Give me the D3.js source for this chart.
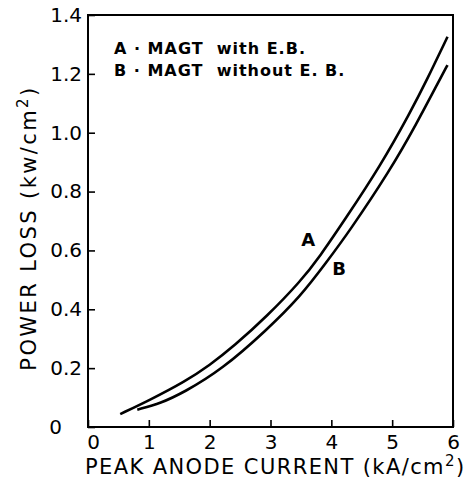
<!DOCTYPE html>
<html>
<head>
<meta charset="utf-8">
<script src="https://cdn.jsdelivr.net/npm/d3@7"></script>
<style>
  body { margin: 0; background: #fff; }
  text { font-family: "DejaVu Sans", sans-serif; fill: #000; }
</style>
</head>
<body>
<svg id="chart" width="474" height="489"></svg>
<script>
// curve A: MAGT with E.B.  [current kA/cm2, loss kW/cm2]
var curveA = [
  [0.53, 0.044], [1.0, 0.09], [1.6, 0.155], [2.0, 0.21], [2.4, 0.275],
  [2.94, 0.376], [3.49, 0.494], [3.81, 0.579], [4.22, 0.704], [4.8, 0.885],
  [5.3, 1.07], [5.57, 1.179], [5.91, 1.326]
];
// curve B: MAGT without E.B.
var curveB = [
  [0.81, 0.059], [1.2, 0.081], [1.57, 0.117], [2.2, 0.195], [2.94, 0.33],
  [3.49, 0.443], [3.92, 0.56], [4.28, 0.66], [4.96, 0.87], [5.4, 1.03],
  [5.78, 1.18], [5.91, 1.23]
];
var xTicks = [0, 1, 2, 3, 4, 5, 6];
var yTicks = [0, 0.2, 0.4, 0.6, 0.8, 1.0, 1.2, 1.4];
var legendLines = ["A \u00b7 MAGT  with E.B.", "B \u00b7 MAGT  without E. B."];
var curveLabels = [
  { name: "A", x: 3.62, y: 0.616 },
  { name: "B", x: 4.13, y: 0.518 }
];

var svg = d3.select("#chart");
var margin = { left: 88, top: 15, right: 21, bottom: 62 };
var width = 474 - margin.left - margin.right;
var height = 489 - margin.top - margin.bottom;

var xScale = d3.scaleLinear().domain([0, 6]).range([0, width]);
var yScale = d3.scaleLinear().domain([0, 1.4]).range([height, 0]);

var g = svg.append("g").attr("transform", "translate(" + margin.left + "," + margin.top + ")");

// frame
g.append("rect")
  .attr("width", width)
  .attr("height", height)
  .attr("fill", "none")
  .attr("stroke", "#000")
  .attr("stroke-width", 2);

var xAxis = d3.axisBottom(xScale)
  .tickValues(xTicks)
  .tickSize(-7)
  .tickPadding(8)
  .tickFormat(function (d) { return String(d); });

var yAxis = d3.axisLeft(yScale)
  .tickValues(yTicks)
  .tickSize(-7)
  .tickPadding(6)
  .tickFormat(function (d) { return d === 0 ? "0" : d.toFixed(1); });

var gx = g.append("g").attr("transform", "translate(0," + height + ")").call(xAxis);
var gy = g.append("g").call(yAxis);

[gx, gy].forEach(function (a) {
  a.select(".domain").remove();
  a.selectAll("line").attr("stroke", "#000").attr("stroke-width", 1.6);
  a.selectAll("text").attr("font-size", 20).attr("font-family", null);
});
gx.selectAll(".tick").filter(function (d) { return d === 0; }).select("text").attr("dx", 5);
gy.selectAll(".tick").filter(function (d) { return d === 0; }).select("text").attr("dx", -20);

var line = d3.line()
  .x(function (d) { return xScale(d[0]); })
  .y(function (d) { return yScale(d[1]); })
  .curve(d3.curveBasis);

g.selectAll(".curve")
  .data([curveA, curveB])
  .enter()
  .append("path")
  .attr("class", "curve")
  .attr("d", line)
  .attr("fill", "none")
  .attr("stroke", "#000")
  .attr("stroke-width", 2.6);

g.selectAll(".clabel")
  .data(curveLabels)
  .enter()
  .append("text")
  .attr("class", "clabel")
  .attr("x", function (d) { return xScale(d.x); })
  .attr("y", function (d) { return yScale(d.y); })
  .attr("text-anchor", "middle")
  .attr("font-size", 18)
  .attr("font-weight", "bold")
  .text(function (d) { return d.name; });

g.selectAll(".legend")
  .data(legendLines)
  .enter()
  .append("text")
  .attr("class", "legend")
  .attr("x", 26)
  .attr("y", function (d, i) { return 39 + i * 22; })
  .attr("font-size", 16)
  .attr("font-weight", "bold")
  .attr("letter-spacing", 1)
  .style("white-space", "pre")
  .text(function (d) { return d; });

// axis titles
var xt = svg.append("text")
  .attr("x", 85)
  .attr("y", 474)
  .attr("font-size", 21)
  .attr("letter-spacing", 1.4);
xt.append("tspan").text("PEAK ANODE CURRENT (kA/cm");
xt.append("tspan").attr("dy", -8).attr("font-size", 15).text("2");
xt.append("tspan").attr("dy", 8).text(")");

var yt = svg.append("text")
  .attr("transform", "translate(36,228) rotate(-90)")
  .attr("text-anchor", "middle")
  .attr("font-size", 21)
  .attr("letter-spacing", 2.4);
yt.append("tspan").text("POWER LOSS (kw/cm");
yt.append("tspan").attr("dy", -8).attr("font-size", 15).text("2");
yt.append("tspan").attr("dy", 8).text(")");
</script>
</body>
</html>
